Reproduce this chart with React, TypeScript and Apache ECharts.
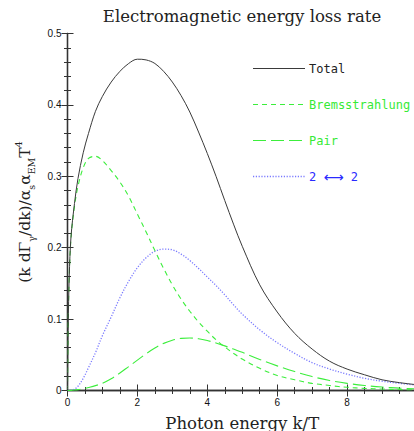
import { useEffect, useRef } from "react";
import * as echarts from "echarts";

// Photon energy k/T sampled along the x axis
const photonEnergy = [
  0, 0.02, 0.05, 0.1, 0.2, 0.3, 0.45, 0.6, 0.8, 1.0,
  1.25, 1.5, 1.75, 2.0, 2.25, 2.5, 2.75, 3.0, 3.25, 3.5,
  3.75, 4.0, 4.25, 4.5, 4.75, 5.0, 5.5, 6.0, 6.5, 7.0,
  7.5, 8.0, 8.5, 9.0, 9.5, 10.0,
];

// Energy loss rate contributions
const totalRate = [
  0, 0.09, 0.16, 0.215, 0.262, 0.297, 0.333, 0.36, 0.391, 0.412,
  0.432, 0.447, 0.458, 0.464, 0.463, 0.458, 0.447, 0.432, 0.413, 0.39,
  0.362, 0.332, 0.3, 0.266, 0.233, 0.202, 0.148, 0.11, 0.08, 0.058,
  0.041, 0.03, 0.022, 0.015, 0.011, 0.008,
];
const bremsRate = [
  0, 0.09, 0.16, 0.213, 0.258, 0.286, 0.312, 0.325, 0.328, 0.322,
  0.308, 0.292, 0.272, 0.247, 0.222, 0.196, 0.171, 0.148, 0.128, 0.111,
  0.096, 0.083, 0.071, 0.061, 0.052, 0.044, 0.031, 0.021, 0.015, 0.01,
  0.007, 0.0045, 0.003, 0.002, 0.0013, 0.0009,
];
const pairRate = [
  0, 0, 0, 0.0002, 0.0006, 0.0012, 0.0025, 0.0042, 0.0068, 0.0102,
  0.0165, 0.0245, 0.0335, 0.0425, 0.0515, 0.0595, 0.066, 0.0705, 0.073, 0.0735,
  0.0725, 0.07, 0.0665, 0.0625, 0.058, 0.0535, 0.0435, 0.0345, 0.0265, 0.0195,
  0.014, 0.01, 0.007, 0.0048, 0.0033, 0.0022,
];
const twoToTwoRate = [
  0, 0, 0.0001, 0.0005, 0.002, 0.006, 0.017, 0.032, 0.053, 0.077,
  0.103, 0.13, 0.153, 0.172, 0.186, 0.195, 0.198, 0.197, 0.191, 0.182,
  0.171, 0.159, 0.147, 0.134, 0.12, 0.107, 0.085, 0.067, 0.052, 0.039,
  0.03, 0.023, 0.017, 0.013, 0.01, 0.0075,
];

const seriesNames = ["Total", "Bremsstrahlung", "Pair", "2 \u27f7 2"];
const seriesValues = [totalRate, bremsRate, pairRate, twoToTwoRate];

const lineColors = ["#3a3a3a", "#3cee3c", "#3cee3c", "#7a7aff"];
const labelColors = ["#222222", "#36ea36", "#36ea36", "#2a2aff"];
const lineTypes: any[] = ["solid", [5, 4], [13, 5], [1.2, 1.6]];
const lineWidths = [1, 1.1, 1.1, 1.3];

const titleText = "Electromagnetic energy loss rate";
const xName = "Photon energy k/T";

const GRID = { left: 67.5, right: -3, top: 33.5, bottom: 40.5 };
const serifFont = "DejaVu Serif";
const monoFont = "'DejaVu Sans Mono'";

function legendLabel(name: string) {
  // the arrow glyph reads better from the proportional face
  return name.replace("\u27f7", "{a|\u27f7}");
}

function buildOption(): echarts.EChartsCoreOption {
  const axisLine = { show: true, lineStyle: { color: "#333", width: 1.3 } };
  const minorLine = { color: "#333", width: 1 };

  const xCommon = {
    type: "value",
    min: 0,
    max: 10,
    interval: 2,
    axisLine,
    axisTick: { show: true, inside: true, length: 6, lineStyle: { color: "#333", width: 1 } },
    minorTick: { show: true, splitNumber: 4, length: 3.5, lineStyle: minorLine },
    splitLine: { show: false },
  };
  const yCommon = {
    type: "value",
    min: 0,
    max: 0.5,
    interval: 0.1,
    axisLine,
    axisTick: { show: true, inside: true, length: 6, lineStyle: { color: "#333", width: 1 } },
    minorTick: { show: true, splitNumber: 5, length: 3.5, lineStyle: minorLine },
    splitLine: { show: false },
  };

  const legendTop = 68.5;
  const legendStep = 36;
  const legendGraphics: any[] = [];
  seriesNames.forEach((name, i) => {
    const y = legendTop + i * legendStep;
    legendGraphics.push({
      type: "line",
      shape: { x1: 253, y1: y, x2: 305, y2: y },
      style: {
        stroke: lineColors[i],
        lineWidth: lineWidths[i],
        lineDash: lineTypes[i] === "solid" ? null : lineTypes[i],
      },
      silent: true,
    });
    legendGraphics.push({
      type: "text",
      x: 309,
      y,
      style: {
        text: legendLabel(name),
        fill: labelColors[i],
        font: `12px ${monoFont}`,
        textAlign: "left",
        textVerticalAlign: "middle",
        rich: {
          a: { fontFamily: "DejaVu Sans", fontSize: 14, fill: labelColors[i], color: labelColors[i] },
        },
      },
      silent: true,
    });
  });

  return {
    animation: false,
    backgroundColor: "#ffffff",
    title: {
      text: titleText,
      left: 242,
      top: 8,
      padding: 0,
      textAlign: "center",
      textStyle: { fontFamily: serifFont, fontSize: 16.5, fontWeight: "normal", color: "#222" },
    },
    grid: { ...GRID, containLabel: false, outerBoundsMode: "none" },
    xAxis: [
      {
        ...xCommon,
        position: "bottom",
        axisLabel: {
          fontSize: 10,
          color: "#111",
          margin: 7,
          fontFamily: "Liberation Sans",
          showMaxLabel: false,
        },
        name: xName,
        nameLocation: "middle",
        nameGap: 24,
        nameTextStyle: { fontFamily: serifFont, fontSize: 16.5, color: "#222" },
      },
      { ...xCommon, position: "top", axisLabel: { show: false } },
    ],
    yAxis: [
      {
        ...yCommon,
        position: "left",
        axisLabel: {
          fontSize: 10,
          color: "#111",
          margin: 6,
          fontFamily: "Liberation Sans",
          formatter: (v: number) => (v === 0 ? "0" : v.toFixed(1)),
        },
        name:
          "{n|(k dΓ}{sub|γ}{n|/dk)/α}{sub|s}{n|α}{sub|EM}{n|T}{sup|4}",
        nameLocation: "middle",
        nameGap: 32,
        nameRotate: 90,
        nameTextStyle: {
          fontFamily: serifFont,
          fontSize: 15.5,
          color: "#222",
          rich: {
            n: { fontFamily: serifFont, fontSize: 15.5, color: "#222", lineHeight: 22 },
            sub: {
              fontFamily: serifFont,
              fontSize: 9.5,
              color: "#222",
              lineHeight: 9,
              padding: [13, 0, 0, 0],
            },
            sup: {
              fontFamily: serifFont,
              fontSize: 9.5,
              color: "#222",
              lineHeight: 9,
              padding: [0, 0, 13, 0],
            },
          },
        },
      },
      { ...yCommon, position: "right", axisLabel: { show: false } },
    ],
    series: seriesNames.map((name, i) => ({
      name,
      type: "line",
      xAxisIndex: 0,
      yAxisIndex: 0,
      data: photonEnergy.map((x, j) => [x, seriesValues[i][j]]),
      showSymbol: false,
      smooth: 0.35,
      silent: true,
      lineStyle: { color: lineColors[i], width: lineWidths[i], type: lineTypes[i] },
      z: 4 - i,
    })),
    graphic: legendGraphics,
  };
}

export default function App() {
  const ref = useRef<HTMLDivElement>(null);
  useEffect(() => {
    if (!ref.current) return;
    const chart = echarts.init(ref.current, undefined, { renderer: "svg" });
    chart.setOption(buildOption());
    return () => chart.dispose();
  }, []);
  return (
    <div
      ref={ref}
      style={{ position: "fixed", left: 0, top: 0, width: 414, height: 431, background: "#fff" }}
    />
  );
}
